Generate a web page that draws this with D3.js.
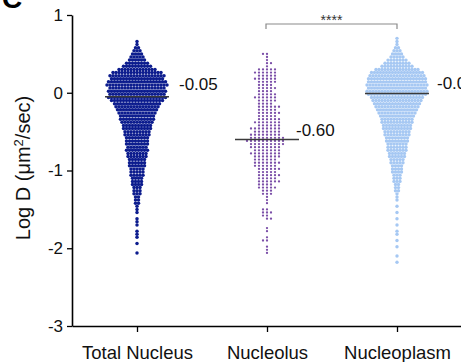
<!DOCTYPE html>
<html>
<head>
<meta charset="utf-8">
<script src="https://cdn.jsdelivr.net/npm/d3@7"></script>
<style>
  body { margin: 0; background: #fff; }
  svg { display: block; font-family: "Liberation Sans", Arial, Helvetica, sans-serif; }
</style>
</head>
<body>
<div id="chart"></div>
<script>
// categories + summary values
const categories = ['Total Nucleus', 'Nucleolus', 'Nucleoplasm'];
const means = [-0.05, -0.60, -0.01];
const meanLabels = ['-0.05', '-0.60', '-0.01'];
const yTicks = [1, 0, -1, -2, -3];

// binned point counts (bin centres start at 0.70 and step down by 0.04)
const binTop = 0.70, binStep = 0.04;
const totalNucleus = [0,1,1,2,3,4,5,6,8,10, 13,17,19,18,20,21,19,20,19,20, 18,16,15,14,13,12,12,11,10,10,
  9,9,8,8,8,7,8,7,7,6, 6,6,5,5,5,4,4,4,3,3, 3,2,2,2,1,1,1,0,1,1, 1,0,1,1,1,0,1,0,0,1, 0,0,0];
const nucleolus = [0,0,0,0,0,2,1,1,2,1, 5,6,5,6,5,4,5,4,5,6, 5,4,6,5,6,5,6,7,6,8,
  7,8,9,10,9,8,7,8,7,6, 7,6,6,5,6,5,6,4,5,3, 3,1,1,1,0,2,3,2,2,0, 0,1,1,0,1,2,0,1,1,1, 0,0,0];
const nucleoplasm = [1,1,1,2,3,4,5,7,9,11, 15,18,19,20,20,21,20,21,20,18, 17,16,15,14,13,12,11,11,10,10,
  9,9,8,8,7,7,7,6,6,5, 5,4,4,4,3,3,3,2,2,2, 1,1,1,0,1,0,1,0,1,0, 1,0,1,1,0,1,0,1,0,0, 1,0,1];

const groups = [
  { name: categories[0], counts: totalNucleus, color: '#0c1c8e', r: 1.75, gap: 3, aligned: false },
  { name: categories[1], counts: nucleolus, color: '#7b4fa8', r: 1.15, gap: 4, aligned: true },
  { name: categories[2], counts: nucleoplasm, color: '#a6c8f3', r: 1.7, gap: 3, aligned: false }
];
const labelDx = [42, 29, 40], labelDy = [-7, -3, -5];

const width = 461, height = 362;
const svg = d3.select('#chart').append('svg')
  .attr('width', width).attr('height', height);

const x = d3.scalePoint().domain(categories).range([72, 462]).padding(0.5);
const y = d3.scaleLinear().domain([-3, 1]).range([326, 15]);

// points
groups.forEach((g, gi) => {
  const pts = [];
  g.counts.forEach((n, k) => {
    const v = binTop - k * binStep;
    for (let i = 0; i < n; i++) {
      let off;
      if (g.aligned) {
        // fill columns outward from the centre, alternating side per row
        const c = i === 0 ? 0 : Math.ceil(i / 2) * ((i % 2 === 1) === (k % 2 === 0) ? 1 : -1);
        off = c * g.gap;
      } else {
        off = (i - (n - 1) / 2) * g.gap;
      }
      pts.push({ v, off });
    }
  });
  svg.append('g').selectAll('circle')
    .data(pts)
    .enter().append('circle')
    .attr('cx', d => x(g.name) + d.off)
    .attr('cy', d => y(d.v))
    .attr('r', g.r)
    .attr('fill', g.color);
});

// mean lines + labels
categories.forEach((c, i) => {
  svg.append('line')
    .attr('x1', x(c) - 32).attr('x2', x(c) + 32)
    .attr('y1', y(means[i])).attr('y2', y(means[i]))
    .attr('stroke', '#3a3a3a').attr('stroke-width', 1.5);
  svg.append('text')
    .attr('x', x(c) + labelDx[i])
    .attr('y', y(means[i]) + labelDy[i])
    .attr('font-size', 17)
    .attr('fill', '#111')
    .text(meanLabels[i]);
});

// axes
const yAxis = svg.append('g').attr('transform', 'translate(72,0)')
  .call(d3.axisLeft(y).tickValues(yTicks).tickSize(5).tickSizeOuter(0).tickPadding(4).tickFormat(d3.format('d')));
const xAxis = svg.append('g').attr('transform', 'translate(0,326)')
  .call(d3.axisBottom(x).tickSize(6).tickSizeOuter(0).tickPadding(14));

[yAxis, xAxis].forEach(a => {
  a.select('.domain').attr('stroke', '#000').attr('stroke-width', 1.6);
  a.selectAll('.tick line').attr('stroke', '#000').attr('stroke-width', 1.3);
  a.selectAll('text').attr('fill', '#111').style('font-family', '"Liberation Sans", Arial, sans-serif');
});
yAxis.selectAll('text').attr('font-size', 17).text(d => d < 0 ? '-' + Math.abs(d) : d);
xAxis.selectAll('text').attr('font-size', 18.5);

// axis title
const title = svg.append('text')
  .attr('transform', 'translate(30,168) rotate(-90)')
  .attr('text-anchor', 'middle')
  .attr('font-size', 20)
  .attr('fill', '#111');
title.append('tspan').text('Log D (\u03bcm');
title.append('tspan').attr('dy', -7).attr('font-size', 13).text('2');
title.append('tspan').attr('dy', 7).text('/sec)');

// significance bracket
const bx1 = x(categories[1]) - 1, bx2 = x(categories[2]);
svg.append('path')
  .attr('d', `M${bx1},29V24H${bx2}V29`)
  .attr('fill', 'none').attr('stroke', '#8a8a8a').attr('stroke-width', 1.2);
svg.append('text')
  .attr('x', (bx1 + bx2) / 2).attr('y', 25)
  .attr('text-anchor', 'middle')
  .attr('font-size', 14).attr('fill', '#333')
  .text('****');

// cut-off panel letter
svg.append('text')
  .attr('x', 2).attr('y', 8)
  .attr('font-size', 28).attr('font-weight', 'bold')
  .text('C');
</script>
</body>
</html>
